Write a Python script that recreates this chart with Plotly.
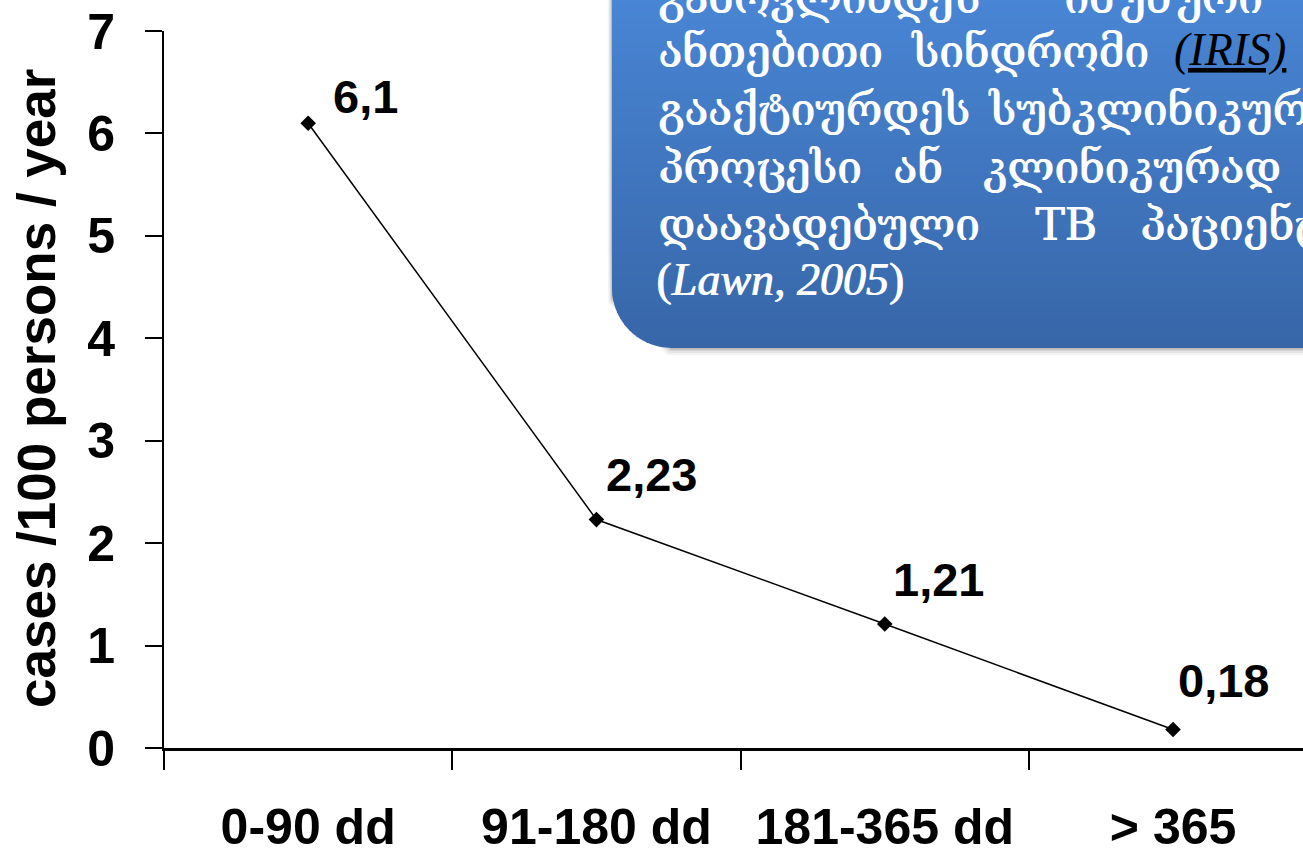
import math
import plotly.graph_objects as go

# ---- data -------------------------------------------------------------
periods = ["0-90 dd", "91-180 dd", "181-365 dd", "> 365"]
incidence = [6.1, 2.23, 1.21, 0.18]          # cases / 100 persons / year
y_ticks = [0, 1, 2, 3, 4, 5, 6, 7]

# value labels written with a decimal comma
value_text = [f"{v:g}".replace(".", ",") for v in incidence]
# hand placement of each value label relative to its marker (px)
label_dx = [26, 11, 9, 6]
label_dy = [-27, -45, -45, -49]

# callout text, one list of (word, left edge px) per justified line
callout_lines = [
    (12,  [("გამოვლინდეს", 656), ("იმუნური", 1062)]),
    (66,  [("ანთებითი", 656), ("სინდრომი", 909)]),
    (124, [("გააქტიურდეს", 656), ("სუბკლინიკური", 986)]),
    (182, [("პროცესი", 656), ("ან", 891), ("კლინიკურად", 981)]),
    (239, [("დაავადებული", 656), ("TB", 1033), ("პაციენტებში", 1138)]),
]
callout_ref = "(<i>Lawn, 2005</i>)"
callout_abbr = "<u><i>(IRIS)</i></u>"

# ---- page geometry ----------------------------------------------------
W, H = 1303, 855
L_M, T_M, B_M = 164, 31, 107
PW, PH = W - L_M, H - T_M - B_M
X_RANGE = [-0.5, -0.5 + PW / 288.3]


def px(x):
    return (x - L_M) / PW


def py(y):
    return (H - B_M - y) / PH


fig = go.Figure()

fig.add_trace(go.Scatter(
    x=periods, y=incidence, mode="lines+markers",
    line=dict(color="black", width=1.5),
    marker=dict(symbol="diamond", size=12, color="black"),
    hoverinfo="skip", showlegend=False,
))

bold = dict(family="Liberation Sans, Arial, sans-serif", color="black", weight="bold")

annotations = []
for i, (cat, v, t) in enumerate(zip(periods, incidence, value_text)):
    annotations.append(dict(
        x=cat, y=v, xref="x", yref="y", text=t, showarrow=False,
        xanchor="left", yanchor="middle", xshift=label_dx[i] - 3, yshift=-label_dy[i],
        font=dict(bold, size=47),
    ))

# y-axis title
annotations.append(dict(
    x=px(36), y=py(389), xref="paper", yref="paper", text="cases /100 persons / year",
    textangle=-90, showarrow=False, xanchor="center", yanchor="middle",
    font=dict(bold, size=53),
))

# ---- callout box ------------------------------------------------------
BX_L, BX_B, BX_R, BX_T, RAD = 612, 348, 1450, -60, 60


def left_edge(y, l=BX_L, b=BX_B, r=RAD):
    if y <= b - r:
        return l
    d = min(y - (b - r), r)
    return l + r - math.sqrt(max(r * r - d * d, 0.0))


def box_path(y0, y1, l=BX_L, b=BX_B, r=RAD, right=BX_R):
    y1 = min(y1, b)
    pts = []
    steps = 8
    for k in range(steps + 1):
        yy = y0 + (y1 - y0) * k / steps
        pts.append((left_edge(yy, l, b, r), yy))
    path = f"M {px(right)},{py(y0)} "
    for (xx, yy) in pts:
        path += f"L {px(xx)},{py(yy)} "
    path += f"L {px(right)},{py(y1)} Z"
    return path


shapes = []
# soft shadow
for grow, alpha in [(7, 0.05), (5, 0.07), (3, 0.10), (1.5, 0.14)]:
    shapes.append(dict(
        type="path", xref="paper", yref="paper", layer="above",
        path=box_path(BX_T, BX_B + grow, BX_L - grow * 0.6, BX_B + grow, RAD),
        fillcolor=f"rgba(40,40,40,{alpha})", line=dict(width=0),
    ))

top_rgb = (72, 133, 212)
bot_rgb = (55, 102, 168)
band = 6
y = BX_T
while y < BX_B:
    y1 = min(y + band, BX_B)
    t = max(0.0, min(1.0, ((y + y1) / 2 - 0) / (BX_B - 0)))
    c = tuple(round(a + (b - a) * t) for a, b in zip(top_rgb, bot_rgb))
    shapes.append(dict(
        type="path", xref="paper", yref="paper", layer="above",
        path=box_path(y, min(y1 + 1, BX_B)),
        fillcolor=f"rgb{c}", line=dict(width=0),
    ))
    y = y1

heavy = "1px 0px 0px white"
geo_font = dict(family="DejaVu Serif, serif", size=44, color="white", shadow=heavy)
for base, words in callout_lines:
    for word, x0 in words:
        annotations.append(dict(
            x=px(x0), y=py(base), xref="paper", yref="paper", text=word,
            showarrow=False, xanchor="left", yanchor="bottom", yshift=-13,
            font=geo_font,
        ))
annotations.append(dict(
    x=px(1172), y=py(66), xref="paper", yref="paper", text=callout_abbr,
    showarrow=False, xanchor="left", yanchor="bottom", yshift=-11,
    font=dict(family="Liberation Serif, serif", size=46, color="black"),
))
annotations.append(dict(
    x=px(654), y=py(296), xref="paper", yref="paper", text=callout_ref,
    showarrow=False, xanchor="left", yanchor="bottom", yshift=-11,
    font=dict(family="Liberation Serif, serif", size=46, color="white", shadow=heavy),
))

fig.update_layout(
    width=W, height=H,
    margin=dict(l=L_M, r=0, t=T_M, b=B_M),
    paper_bgcolor="white", plot_bgcolor="white",
    shapes=shapes, annotations=annotations,
    xaxis=dict(
        type="category", range=X_RANGE, tickson="boundaries", automargin=False,
        showline=True, linecolor="black", linewidth=2.5,
        ticks="outside", ticklen=19, tickwidth=2, tickcolor="black",
        tickfont=dict(bold, size=50), ticklabelstandoff=33,
        showgrid=False, zeroline=False,
    ),
    yaxis=dict(
        range=[0, 7], tickvals=y_ticks, ticktext=[str(v) for v in y_ticks],
        automargin=False,
        showline=True, linecolor="black", linewidth=2,
        ticks="outside", ticklen=17, tickwidth=2, tickcolor="black",
        tickfont=dict(bold, size=50), ticklabelstandoff=20,
        showgrid=False, zeroline=False,
    ),
)

fig.write_html("out.html")
